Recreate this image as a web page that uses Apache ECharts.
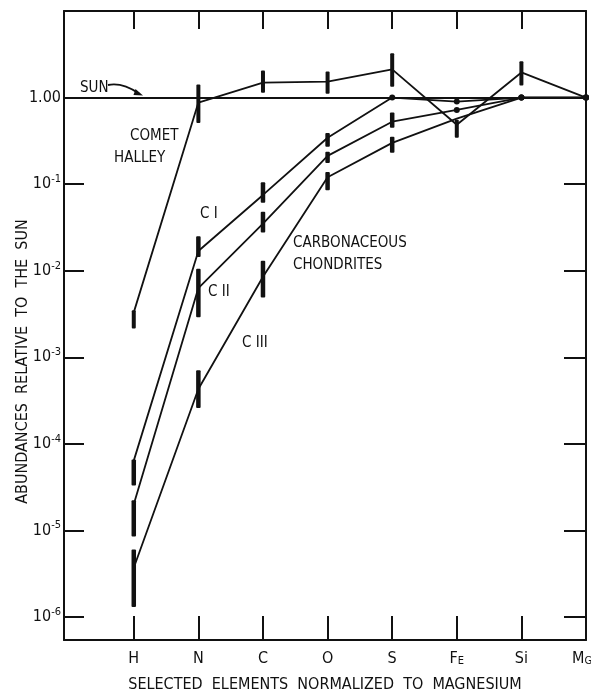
<!DOCTYPE html>
<html><head><meta charset="utf-8">
<script src="https://cdn.jsdelivr.net/npm/echarts@6/dist/echarts.min.js"></script>
<style>html,body{margin:0;padding:0;background:#fff}#c{width:591px;height:693px}</style>
</head><body><div id="c"></div>
<script>
// ---- data ----
const elements = ['H','N','C','O','S','Fe','Si','Mg'];
const sunLevel = 1.0;
const halley     = [3.3e-3, 0.875, 1.49, 1.53, 2.12, 0.485, 1.95, 1.0];
const halleyLow  = [2.15e-3, 0.51, 1.14, 1.11, 1.33, 0.343, 1.38, null];
const halleyHigh = [3.5e-3, 1.42, 2.06, 2.0, 3.25, 0.555, 2.62, null];
const c1     = [6.4e-5, 0.0169, 0.075, 0.343, 1.0, 0.90, 1.0, 1.0];
const c1Low  = [3.3e-5, 0.0144, 0.061, 0.27, null, null, null, null];
const c1High = [6.6e-5, 0.025, 0.105, 0.39, null, null, null, null];
const c2     = [2.0e-5, 6.3e-3, 0.035, 0.212, 0.526, 0.72, 1.0, 1.0];
const c2Low  = [8.5e-6, 2.9e-3, 0.0277, 0.175, 0.448, null, null, null];
const c2High = [2.23e-5, 0.0105, 0.048, 0.236, 0.67, null, null, null];
const c3     = [3.7e-6, 4.3e-4, 8.5e-3, 0.12, 0.30, 0.57, 1.0, 1.0];
const c3Low  = [1.3e-6, 2.6e-4, 4.9e-3, 0.085, 0.23, null, null, null];
const c3High = [6.0e-6, 7.1e-4, 0.013, 0.138, 0.352, null, null, null];
const dotted = { c1: [4,5,6,7], c2: [5,6,7], c3: [6,7], halley: [7] };

// ---- chart ----
const FONT = "'DejaVu Sans Condensed','Liberation Sans Narrow','DejaVu Sans',sans-serif";
const INK = '#111';
const Y_MIN = Math.pow(10, -6.266), Y_MAX = 10;
const X_MIN = -1.08, X_MAX = 7;
const idx = elements.map((e,i)=>i);

function lineSeries(name, vals, dots) {
  return {
    type: 'line', name, data: vals.map((v,i)=>[i, v]),
    symbol: 'circle',
    symbolSize: (v, p) => dots.indexOf(p.dataIndex) >= 0 ? 6 : 0,
    itemStyle: { color: INK }, lineStyle: { color: INK, width: 1.8 },
    z: 3, silent: true, animation: false
  };
}
function errSeries(name, lows, highs, w) {
  const data = [];
  lows.forEach((lo,i)=>{ if (lo != null) data.push([i, lo, highs[i]]); });
  return {
    type: 'custom', name, data, z: 4, silent: true, animation: false,
    encode: { x: 0, y: [1, 2] },
    renderItem(params, api) {
      const x = api.value(0);
      const lo = api.coord([x, api.value(1)]);
      const hi = api.coord([x, api.value(2)]);
      return { type: 'rect', shape: { x: lo[0] - w/2, y: hi[1], width: w, height: lo[1] - hi[1], r: 1 }, style: { fill: INK } };
    }
  };
}
function yLabel(v) {
  const l = Math.log10(v), e = Math.round(l);
  if (Math.abs(l - e) > 0.02 || e > 0) return '';
  if (e === 0) return '1.00';
  return '10{s|' + e + '}';
}
function xLabel(v) {
  const i = Math.round(v);
  if (Math.abs(v - i) > 0.01) return '';
  const n = elements[i];
  if (!n) return '';
  if (n.length === 1) return n;
  if (n === 'Si') return n;
  return n[0] + '{sm|' + n[1].toUpperCase() + '}' + (n === 'Mg' ? '{pad|}' : '');
}
const axisLineStyle = { show: true, onZero: false, lineStyle: { color: INK, width: 2 } };

const option = {
  backgroundColor: '#fff',
  animation: false,
  grid: { left: 64, right: 5, top: 11, bottom: 53, containLabel: false, outerBoundsMode: 'none' },
  xAxis: [{
    type: 'value', position: 'bottom', min: X_MIN, max: X_MAX,
    axisLine: axisLineStyle,
    axisTick: { show: true, inside: true, length: 24, lineStyle: { color: INK, width: 2 }, customValues: idx.slice(0, 7) },
    axisLabel: { customValues: idx, formatter: xLabel, color: INK, fontFamily: FONT, fontSize: 16, margin: 11,
      rich: { sm: { fontSize: 11, fontFamily: FONT, color: INK, verticalAlign: 'bottom' }, pad: { width: 8 } } },
    splitLine: { show: false },
    name: 'SELECTED  ELEMENTS  NORMALIZED  TO  MAGNESIUM', nameLocation: 'middle', nameGap: 37, nameMoveOverlap: false,
    nameTextStyle: { color: INK, fontFamily: FONT, fontSize: 16 }
  }, {
    type: 'value', position: 'top', min: X_MIN, max: X_MAX,
    axisLine: axisLineStyle,
    axisTick: { show: true, inside: true, length: 18, lineStyle: { color: INK, width: 2 }, customValues: idx.slice(0, 7) },
    axisLabel: { show: false }, splitLine: { show: false }
  }],
  yAxis: [{
    type: 'log', logBase: 10, position: 'left', min: Y_MIN, max: Y_MAX,
    axisLine: axisLineStyle,
    axisTick: { show: true, inside: true, length: 20, lineStyle: { color: INK, width: 2 } },
    minorTick: { show: false }, splitLine: { show: false },
    axisLabel: { formatter: yLabel, color: INK, fontFamily: FONT, fontSize: 16, margin: 3,
      showMinLabel: false, showMaxLabel: false,
      rich: { s: { fontSize: 11, fontFamily: FONT, color: INK, padding: [0, 0, 10, 0] } } },
    name: 'ABUNDANCES  RELATIVE  TO  THE  SUN', nameLocation: 'middle', nameGap: 33, nameRotate: 90, nameMoveOverlap: false,
    nameTextStyle: { color: INK, fontFamily: FONT, fontSize: 16, padding: [0, 72, 0, 0] }
  }, {
    type: 'log', logBase: 10, position: 'right', min: Y_MIN, max: Y_MAX,
    axisLine: axisLineStyle,
    axisTick: { show: true, inside: true, length: 22, lineStyle: { color: INK, width: 2 } },
    minorTick: { show: false }, splitLine: { show: false }, axisLabel: { show: false }
  }],
  series: [
    { type: 'line', name: 'Sun', data: [], silent: true,
      markLine: { silent: true, symbol: ['none', 'none'], label: { show: false },
        lineStyle: { color: INK, width: 1.8, type: 'solid' }, data: [{ yAxis: sunLevel }] } },
    lineSeries('Comet Halley', halley, dotted.halley),
    lineSeries('C I', c1, dotted.c1),
    lineSeries('C II', c2, dotted.c2),
    lineSeries('C III', c3, dotted.c3),
    errSeries('Comet Halley err', halleyLow, halleyHigh, 4),
    errSeries('C I err', c1Low, c1High, 4.5),
    errSeries('C II err', c2Low, c2High, 4.5),
    errSeries('C III err', c3Low, c3High, 4.5)
  ],
  graphic: [
    { type: 'text', left: 80, top: 81, style: { text: 'SUN', font: '15px ' + FONT, fill: INK } },
    { type: 'bezierCurve', shape: { x1: 108, y1: 85, x2: 139, y2: 93.5, cpx1: 122, cpy1: 82 },
      style: { stroke: INK, lineWidth: 1.8, fill: null } },
    { type: 'polygon', shape: { points: [[143, 95.5], [135.5, 89], [133.5, 95]] }, style: { fill: INK } },
    { type: 'text', left: 130, top: 129, style: { text: 'COMET', font: '15px ' + FONT, fill: INK } },
    { type: 'text', left: 114, top: 151, style: { text: 'HALLEY', font: '15px ' + FONT, fill: INK } },
    { type: 'text', left: 200, top: 207, style: { text: 'C I', font: '15px ' + FONT, fill: INK } },
    { type: 'text', left: 208, top: 285, style: { text: 'C II', font: '15px ' + FONT, fill: INK } },
    { type: 'text', left: 242, top: 336, style: { text: 'C III', font: '15px ' + FONT, fill: INK } },
    { type: 'text', left: 293, top: 236, style: { text: 'CARBONACEOUS', font: '15px ' + FONT, fill: INK } },
    { type: 'text', left: 293, top: 258, style: { text: 'CHONDRITES', font: '15px ' + FONT, fill: INK } }
  ]
};
const chart = echarts.init(document.getElementById('c'), null, { renderer: 'canvas' });
chart.setOption(option);
</script></body></html>
